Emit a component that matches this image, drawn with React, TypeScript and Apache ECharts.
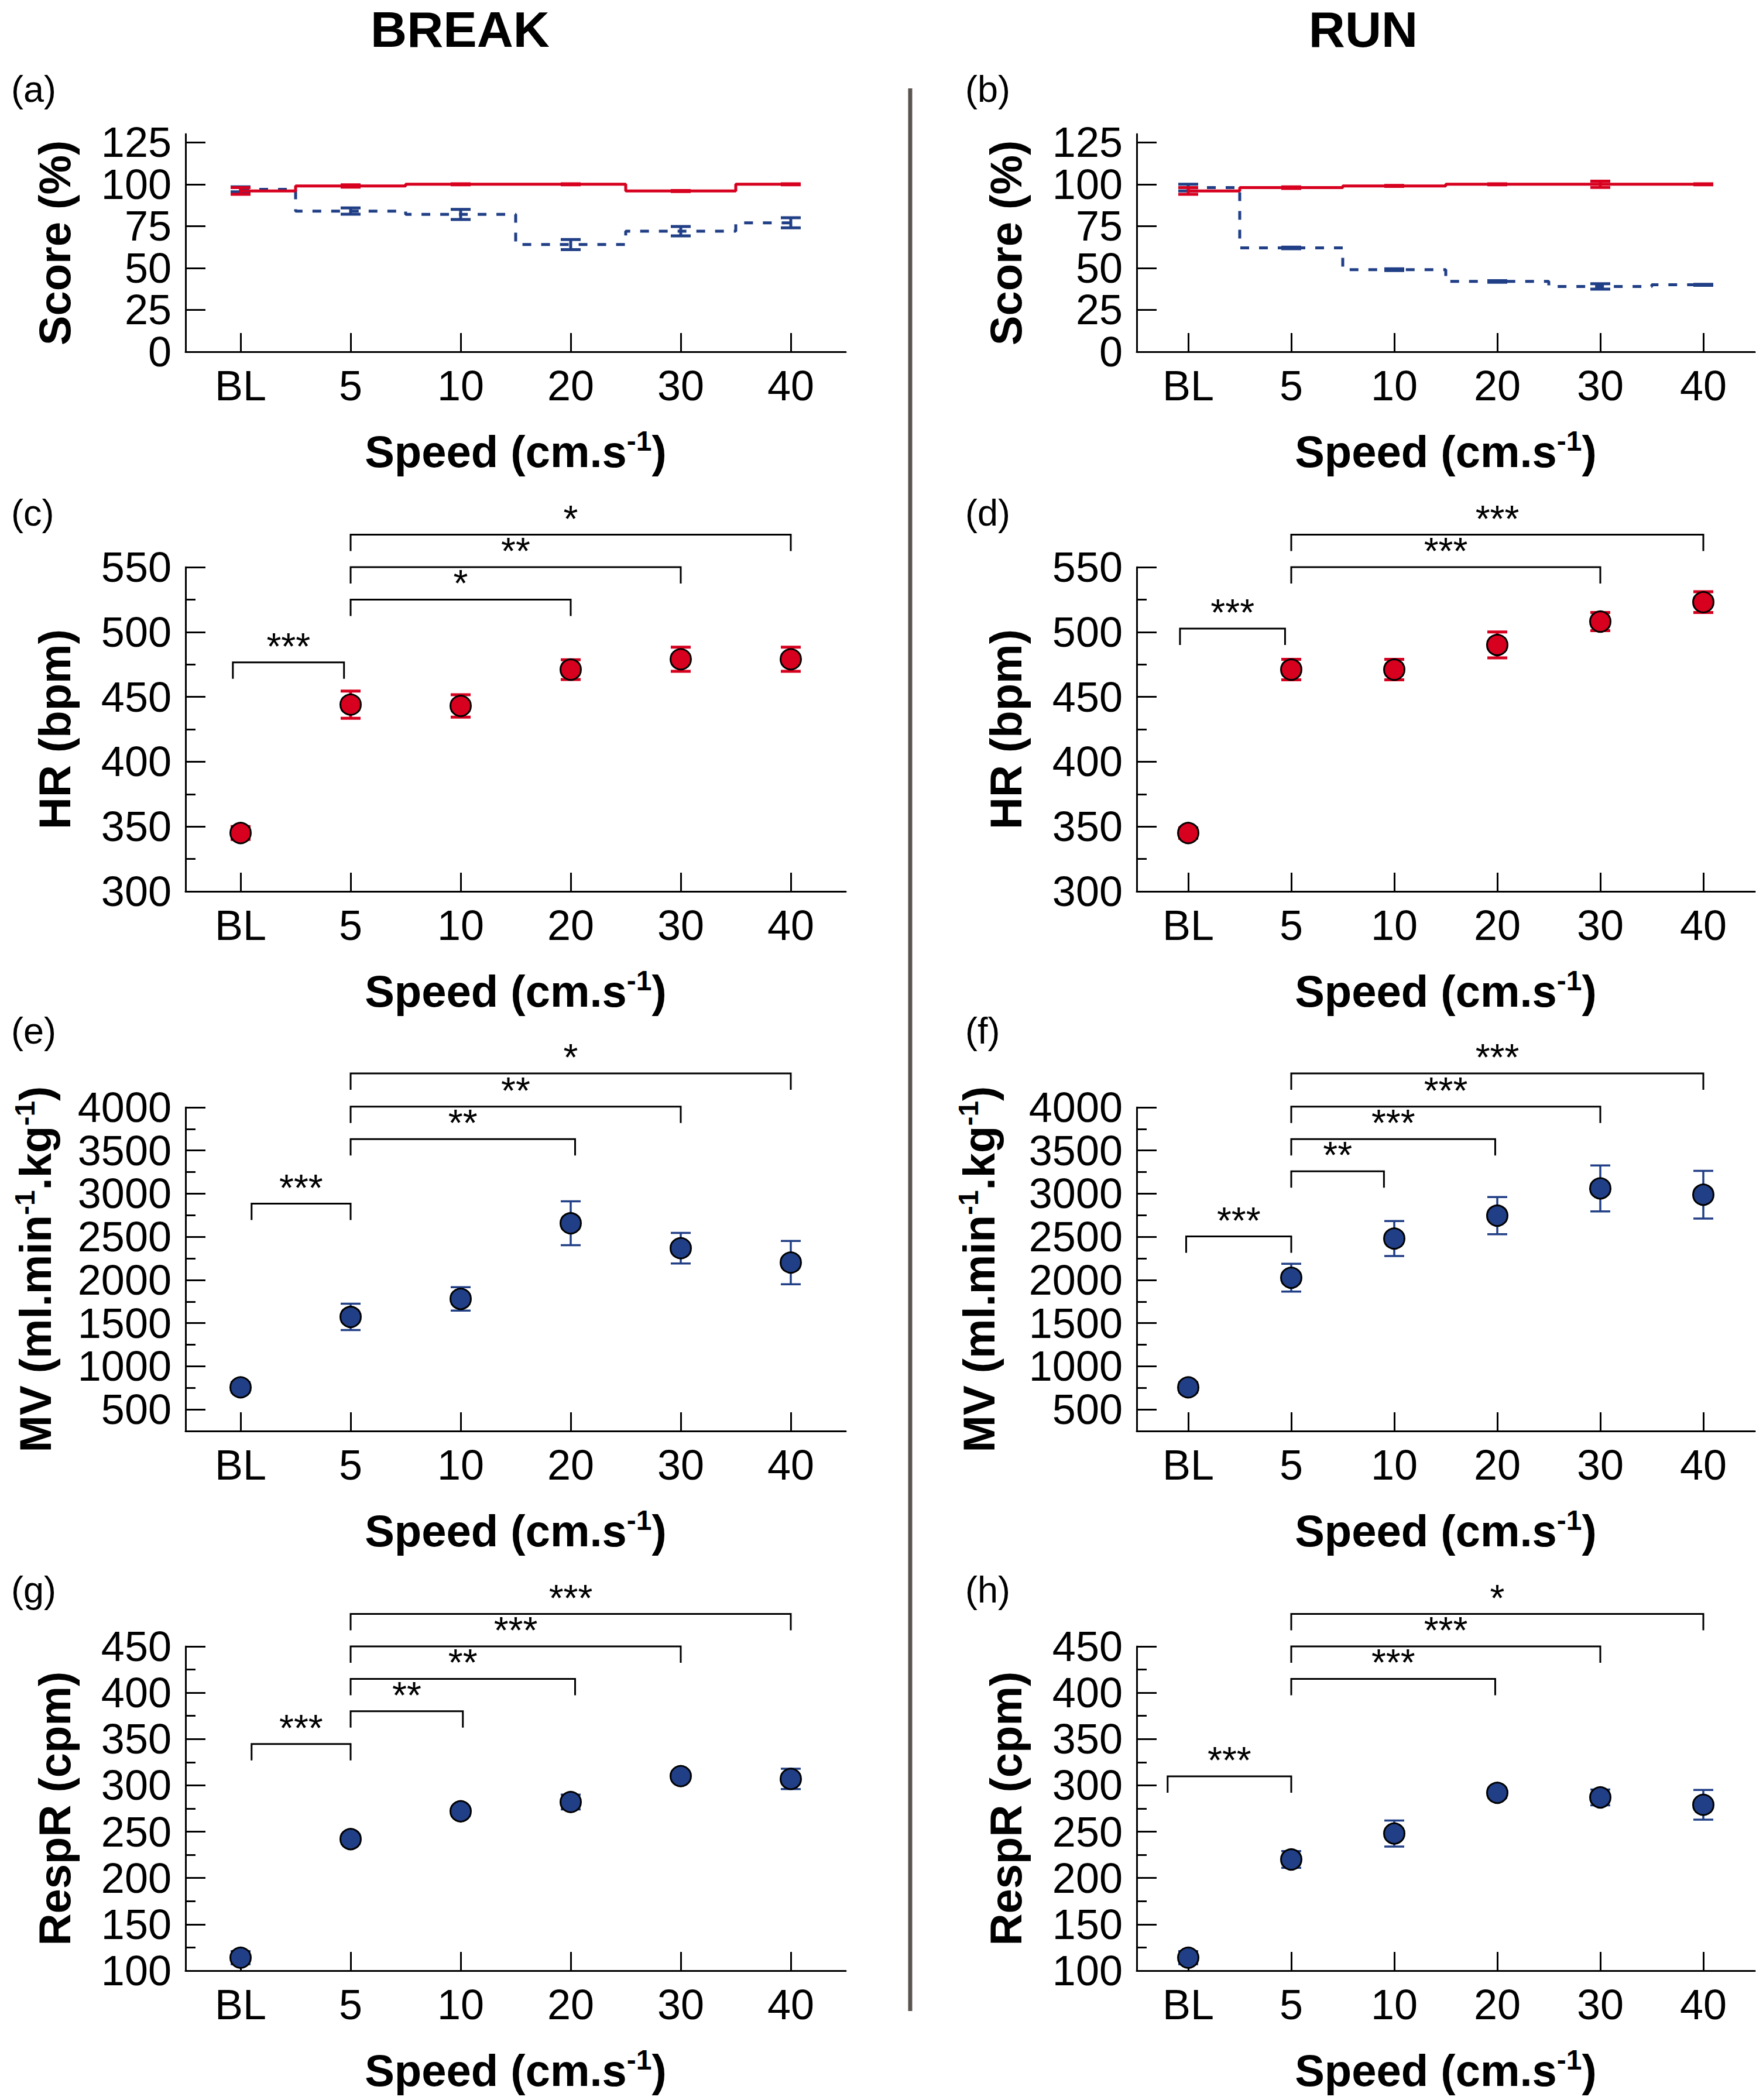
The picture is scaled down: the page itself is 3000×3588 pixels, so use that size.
import React, { useEffect, useRef } from 'react';
import * as echarts from 'echarts';

// ---------- data ----------
const categories = ['BL', '5', '10', '20', '30', '40'];

// Score (%) — step lines (red solid, blue dashed)
const scoreBreakRed = [96, 99, 100, 100, 96, 100];
const scoreBreakRedErr = [2, 0.7, 0.3, 0.3, 0.3, 0.3];
const scoreBreakBlue = [97, 84, 82, 64, 72, 77];
const scoreBreakBlueErr = [1.5, 1.9, 3, 3, 2.8, 3];
const scoreRunRed = [96, 98, 99, 100, 100, 100];
const scoreRunRedErr = [2, 0.5, 0.3, 0.3, 1.9, 0.3];
const scoreRunBlue = [98, 62, 49, 42, 39, 40];
const scoreRunBlueErr = [2, 0.5, 0.5, 0.5, 1.6, 0.3];

// HR (bpm)
const hrBreak = [345, 444, 443, 471, 479, 479];
const hrBreakErr = [5, 10.5, 8.6, 7.6, 9.3, 9.3];
const hrRun = [345, 471, 471, 490, 508, 523];
const hrRunErr = [4, 7.9, 7.9, 10, 7, 8];

// MV (ml.min-1.kg-1)
const mvBreak = [756, 1572, 1781, 2657, 2368, 2202];
const mvBreakErr = [60, 153, 136, 254, 177, 251];
const mvRun = [756, 2026, 2480, 2745, 3061, 2988];
const mvRunErr = [60, 161, 203, 215, 266, 277];

// RespR (cpm)
const respBreak = [114, 242, 272, 282, 310, 307];
const respBreakErr = [7, 5, 5, 8, 3, 11];
const respRun = [114, 220, 248, 292, 287, 279];
const respRunErr = [7, 9, 14, 5, 8.5, 16];

// significance brackets: span (category positions), level (axis value), label
const hrBreakSig = [
  { from: -0.07, to: 0.94, y: 476.6, label: '***' },
  { from: 1, to: 3, y: 525, label: '*' },
  { from: 1, to: 4, y: 550, label: '**' },
  { from: 1, to: 5, y: 575, label: '*' },
];
const hrRunSig = [
  { from: -0.08, to: 0.94, y: 502.6, label: '***' },
  { from: 1, to: 4, y: 550, label: '***' },
  { from: 1, to: 5, y: 575, label: '***' },
];
const mvBreakSig = [
  { from: 0.1, to: 1, y: 2884, label: '***' },
  { from: 1, to: 3.04, y: 3632, label: '**' },
  { from: 1, to: 4, y: 4008, label: '**' },
  { from: 1, to: 5, y: 4393, label: '*' },
];
const mvRunSig = [
  { from: -0.02, to: 1, y: 2504, label: '***' },
  { from: 1, to: 1.9, y: 3260, label: '**' },
  { from: 1, to: 2.98, y: 3632, label: '***' },
  { from: 1, to: 4, y: 4008, label: '***' },
  { from: 1, to: 5, y: 4393, label: '***' },
];
const respBreakSig = [
  { from: 0.1, to: 1, y: 344.7, label: '***' },
  { from: 1, to: 2.02, y: 380, label: '**' },
  { from: 1, to: 3.04, y: 415, label: '**' },
  { from: 1, to: 4, y: 450, label: '***' },
  { from: 1, to: 5, y: 485, label: '***' },
];
const respRunSig = [
  { from: -0.2, to: 1, y: 309.8, label: '***' },
  { from: 1, to: 2.98, y: 415, label: '***' },
  { from: 1, to: 4, y: 450, label: '***' },
  { from: 1, to: 5, y: 485, label: '*' },
];

// tick values
const scoreTicks = [0, 25, 50, 75, 100, 125];
const hrTicks = [300, 350, 400, 450, 500, 550];
const hrMinor = [325, 375, 425, 475, 525];
const mvTicks = [500, 1000, 1500, 2000, 2500, 3000, 3500, 4000];
const mvMinor = [750, 1250, 1750, 2250, 2750, 3250, 3750];
const respTicks = [100, 150, 200, 250, 300, 350, 400, 450];
const respMinor = [125, 175, 225, 275, 325, 375, 425];

// ---------- styles / layout ----------
const FONT = "'Liberation Sans', Arial, Helvetica, sans-serif";
const RED = '#d7001f';
const BLUE = '#213f86';
const colLeft = [317, 1942];
const colWidth = [1128, 1056];
const rowTop = [229, 969, 1892, 2813];
const rowHeight = [372, 554, 553, 554];

function errorBarRender(color: string, lw: number, capW: number) {
  return (params: any, api: any) => {
    const idx = api.value(0);
    const m = api.value(1);
    const e = api.value(2);
    const top = api.coord([idx, m + e]);
    const bot = api.coord([idx, m - e]);
    const x = top[0];
    const st = { stroke: color, lineWidth: lw };
    return {
      type: 'group',
      children: [
        { type: 'line', shape: { x1: x, y1: top[1], x2: x, y2: bot[1] }, style: st },
        { type: 'line', shape: { x1: x - capW / 2, y1: top[1], x2: x + capW / 2, y2: top[1] }, style: st },
        { type: 'line', shape: { x1: x - capW / 2, y1: bot[1], x2: x + capW / 2, y2: bot[1] }, style: st },
      ],
    };
  };
}

function bracketRender(list: any[]) {
  return (params: any, api: any) => {
    const b = list[params.dataIndex];
    const p0 = api.coord([0, b.y]);
    const p1 = api.coord([1, b.y]);
    const step = p1[0] - p0[0];
    const xa = p0[0] + b.from * step;
    const xb = p0[0] + b.to * step;
    const y = p0[1];
    return {
      type: 'group',
      children: [
        {
          type: 'polyline',
          shape: { points: [[xa, y + 28], [xa, y], [xb, y], [xb, y + 28]] },
          style: { stroke: '#000', lineWidth: 3, fill: 'none' },
        },
        {
          type: 'text',
          style: {
            text: b.label, x: (xa + xb) / 2, y: y - 27, fill: '#000',
            fontSize: 64, fontFamily: FONT, align: 'center', verticalAlign: 'middle',
          },
        },
      ],
    };
  };
}

type Panel = {
  letter: string; col: number; row: number; kind: 'score' | 'dot';
  yName: string; yRich?: boolean; nameGap: number;
  min: number; max: number; major: number[]; minor: number[];
  red?: number[]; redErr?: number[]; blue?: number[]; blueErr?: number[];
  vals?: number[]; errs?: number[]; color?: string; sig?: any[];
};

const panels: Panel[] = [
  { letter: '(a)', col: 0, row: 0, kind: 'score', yName: 'Score (%)', nameGap: 186, min: 0, max: 130, major: scoreTicks, minor: [],
    red: scoreBreakRed, redErr: scoreBreakRedErr, blue: scoreBreakBlue, blueErr: scoreBreakBlueErr },
  { letter: '(b)', col: 1, row: 0, kind: 'score', yName: 'Score (%)', nameGap: 186, min: 0, max: 130, major: scoreTicks, minor: [],
    red: scoreRunRed, redErr: scoreRunRedErr, blue: scoreRunBlue, blueErr: scoreRunBlueErr },
  { letter: '(c)', col: 0, row: 1, kind: 'dot', yName: 'HR (bpm)', nameGap: 186, min: 300, max: 550, major: hrTicks, minor: hrMinor,
    vals: hrBreak, errs: hrBreakErr, color: RED, sig: hrBreakSig },
  { letter: '(d)', col: 1, row: 1, kind: 'dot', yName: 'HR (bpm)', nameGap: 186, min: 300, max: 550, major: hrTicks, minor: hrMinor,
    vals: hrRun, errs: hrRunErr, color: RED, sig: hrRunSig },
  { letter: '(e)', col: 0, row: 2, kind: 'dot', yName: 'MV', yRich: true, nameGap: 215, min: 250, max: 4000, major: mvTicks, minor: mvMinor,
    vals: mvBreak, errs: mvBreakErr, color: BLUE, sig: mvBreakSig },
  { letter: '(f)', col: 1, row: 2, kind: 'dot', yName: 'MV', yRich: true, nameGap: 228, min: 250, max: 4000, major: mvTicks, minor: mvMinor,
    vals: mvRun, errs: mvRunErr, color: BLUE, sig: mvRunSig },
  { letter: '(g)', col: 0, row: 3, kind: 'dot', yName: 'RespR (cpm)', nameGap: 186, min: 100, max: 450, major: respTicks, minor: respMinor,
    vals: respBreak, errs: respBreakErr, color: BLUE, sig: respBreakSig },
  { letter: '(h)', col: 1, row: 3, kind: 'dot', yName: 'RespR (cpm)', nameGap: 186, min: 100, max: 450, major: respTicks, minor: respMinor,
    vals: respRun, errs: respRunErr, color: BLUE, sig: respRunSig },
];

const letterY = [152, 876, 1761, 2716];
const letterX = [19, 1649];

function buildOption() {
  const grid: any[] = [];
  const xAxis: any[] = [];
  const yAxis: any[] = [];
  const series: any[] = [];
  const axisLineStyle = { color: '#000', width: 3 };
  const labelBase = {
    color: '#000', fontSize: 72, fontFamily: FONT, margin: 24,
    showMinLabel: true, showMaxLabel: true, hideOverlap: false,
    formatter: (v: number) => String(v),
  };

  panels.forEach((p, i) => {
    grid.push({ left: colLeft[p.col], top: rowTop[p.row], width: colWidth[p.col], height: rowHeight[p.row] });
    xAxis.push({
      type: 'category', gridIndex: i, data: categories, boundaryGap: true,
      axisLine: { show: true, lineStyle: axisLineStyle },
      axisTick: { show: true, alignWithLabel: true, inside: true, length: 32, lineStyle: axisLineStyle },
      axisLabel: { color: '#000', fontSize: 72, fontFamily: FONT, margin: 22 },
      splitLine: { show: false },
      name: '{b|Speed (cm.s}{s|-1}{b|)}', nameLocation: 'middle', nameGap: 128,
      nameTextStyle: {
        rich: {
          b: { fontSize: 76, fontWeight: 'bold', fontFamily: FONT, color: '#000', lineHeight: 84 },
          s: { fontSize: 48, fontWeight: 'bold', fontFamily: FONT, color: '#000', lineHeight: 48, verticalAlign: 'top' },
        },
      },
    });
    const nameStyle: any = p.yRich
      ? {
          rich: {
            b: { fontSize: 76, fontWeight: 'bold', fontFamily: FONT, color: '#000', lineHeight: 84 },
            s: { fontSize: 48, fontWeight: 'bold', fontFamily: FONT, color: '#000', lineHeight: 48, verticalAlign: 'top' },
          },
        }
      : { fontSize: 76, fontWeight: 'bold', fontFamily: FONT, color: '#000' };
    // tightly spaced labels are split over two overlaid axes so none get hidden
    const tight = p.kind === 'score';
    const labelsA = tight ? p.major.filter((_, k) => k % 2 === 0) : p.major;
    const labelsB = tight ? p.major.filter((_, k) => k % 2 === 1) : [];
    yAxis.push({
      type: 'value', gridIndex: i, min: p.min, max: p.max, position: 'left',
      axisLine: { show: true, lineStyle: axisLineStyle },
      axisTick: { show: true, inside: true, length: 34, customValues: p.major, lineStyle: axisLineStyle },
      axisLabel: { ...labelBase, customValues: labelsA },
      splitLine: { show: false },
      name: p.yRich ? '{b|MV (ml.min}{s|-1}{b|.kg}{s|-1}{b|)}' : p.yName,
      nameLocation: 'middle', nameGap: p.nameGap, nameTextStyle: nameStyle,
    });
    yAxis.push({
      type: 'value', gridIndex: i, min: p.min, max: p.max, position: 'left', offset: 0,
      axisLine: { show: false },
      axisTick: p.minor.length
        ? { show: true, inside: true, length: 17, customValues: p.minor, lineStyle: axisLineStyle }
        : { show: false },
      axisLabel: labelsB.length ? { ...labelBase, customValues: labelsB } : { show: false },
      splitLine: { show: false },
    });
    const yIdx = 2 * i;
    if (p.kind === 'score') {
      series.push({
        type: 'custom', xAxisIndex: i, yAxisIndex: yIdx, z: 2, silent: true,
        renderItem: errorBarRender(BLUE, 5, 34), encode: { x: 0, y: 1 },
        data: p.blue!.map((v, k) => [k, v, p.blueErr![k]]),
      });
      series.push({
        type: 'line', xAxisIndex: i, yAxisIndex: yIdx, z: 3, step: 'middle', showSymbol: false, symbol: 'none',
        data: p.blue, lineStyle: { color: BLUE, width: 5, type: [15, 17] }, silent: true,
      });
      series.push({
        type: 'custom', xAxisIndex: i, yAxisIndex: yIdx, z: 4, silent: true,
        renderItem: errorBarRender(RED, 5, 34), encode: { x: 0, y: 1 },
        data: p.red!.map((v, k) => [k, v, p.redErr![k]]),
      });
      series.push({
        type: 'line', xAxisIndex: i, yAxisIndex: yIdx, z: 5, step: 'middle', showSymbol: false, symbol: 'none',
        data: p.red, lineStyle: { color: RED, width: 5 }, silent: true,
      });
    } else {
      const lw = p.color === RED ? 5 : 3.5;
      series.push({
        type: 'custom', xAxisIndex: i, yAxisIndex: yIdx, z: 2, silent: true,
        renderItem: errorBarRender(p.color!, lw, 34), encode: { x: 0, y: 1 },
        data: p.vals!.map((v, k) => [k, v, p.errs![k]]),
      });
      series.push({
        type: 'scatter', xAxisIndex: i, yAxisIndex: yIdx, z: 3, symbol: 'circle', symbolSize: 35,
        data: p.vals, itemStyle: { color: p.color, borderColor: '#000', borderWidth: 3, opacity: 1 }, silent: true,
      });
      series.push({
        type: 'custom', xAxisIndex: i, yAxisIndex: yIdx, z: 4, silent: true, clip: false,
        renderItem: bracketRender(p.sig!), encode: { x: 0, y: 1 },
        data: p.sig!.map((b: any) => [1, b.y]),
      });
    }
  });

  const graphic: any[] = [
    { type: 'text', x: 786, y: 50, style: { text: 'BREAK', fill: '#000', fontSize: 86, fontWeight: 'bold', fontFamily: FONT, align: 'center', verticalAlign: 'middle' } },
    { type: 'text', x: 2329, y: 50, style: { text: 'RUN', fill: '#000', fontSize: 86, fontWeight: 'bold', fontFamily: FONT, align: 'center', verticalAlign: 'middle' } },
    { type: 'line', shape: { x1: 1555, y1: 151, x2: 1555, y2: 3436 }, style: { stroke: '#5b5552', lineWidth: 7 } },
  ];
  panels.forEach((p) => {
    graphic.push({
      type: 'text', x: letterX[p.col], y: letterY[p.row],
      style: { text: p.letter, fill: '#000', fontSize: 63, fontFamily: FONT, align: 'left', verticalAlign: 'middle' },
    });
  });

  return { animation: false, backgroundColor: '#fff', grid, xAxis, yAxis, series, graphic };
}

export default function App() {
  const ref = useRef<HTMLDivElement>(null);
  useEffect(() => {
    document.body.style.margin = '0';
    if (!ref.current) return;
    const chart = echarts.init(ref.current, undefined, { renderer: 'svg' });
    chart.setOption(buildOption() as any);
    return () => chart.dispose();
  }, []);
  return <div ref={ref} style={{ width: 3000, height: 3588 }} />;
}
